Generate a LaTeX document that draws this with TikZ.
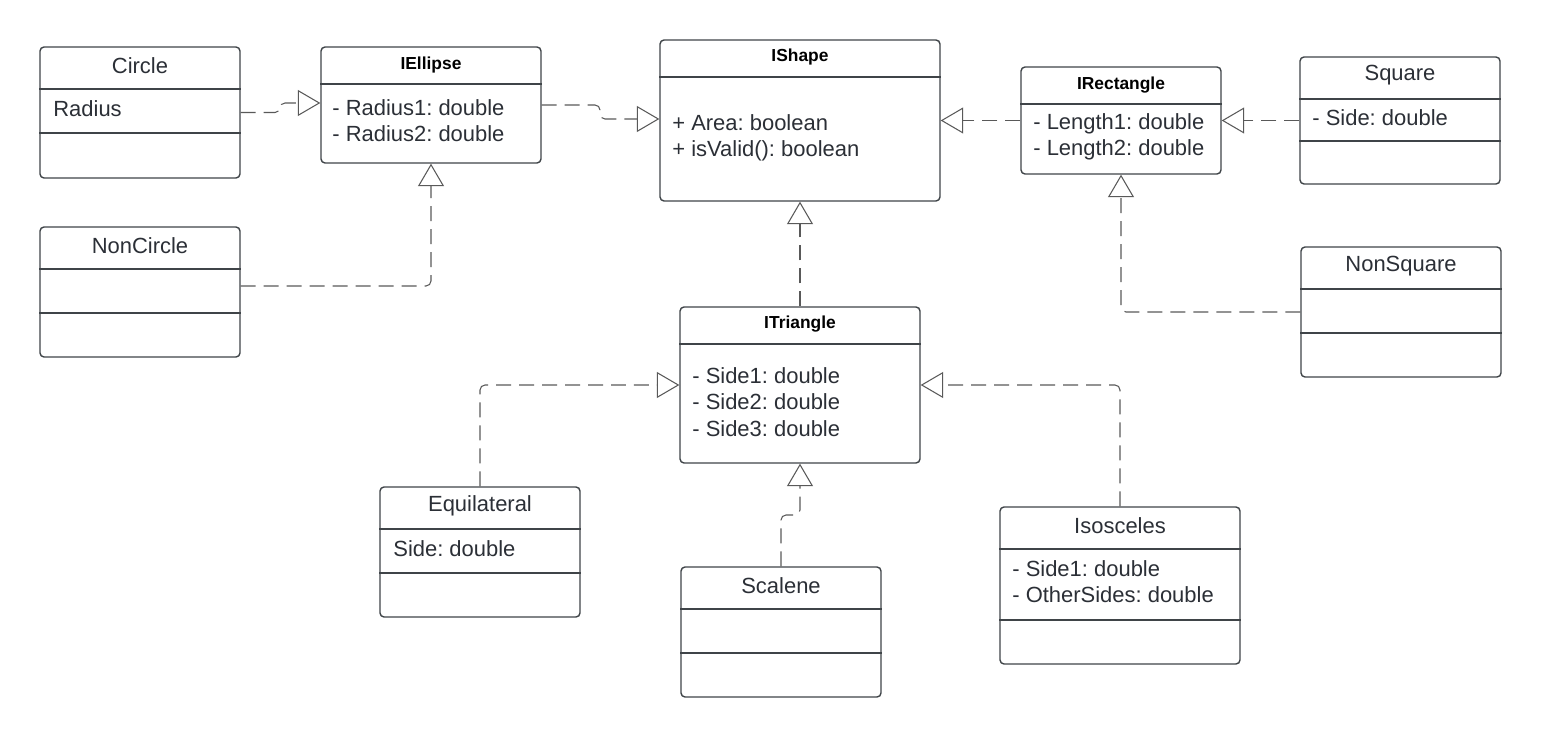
\documentclass[tikz,border=0pt]{standalone}
\usepackage{fontspec}
\setmainfont{Liberation Sans}
\frenchspacing
\usetikzlibrary{arrows.meta}
\definecolor{boxline}{HTML}{3F4448}
\definecolor{txt}{HTML}{2B2F36}
\definecolor{conn}{HTML}{595959}
\tikzset{
  cls/.style={draw=boxline, line width=0.8pt, rounded corners=0.08cm},
  ttl/.style={text=txt, font=\fontsize{12.5}{15}\selectfont, inner sep=0pt},
  ittl/.style={text=black, font=\fontsize{9.9}{12}\selectfont\bfseries, inner sep=0pt},
  body/.style={text=txt, font=\fontsize{12.5}{15}\selectfont, anchor=west, align=left, inner sep=0pt},
  impl/.style={draw=conn, line width=0.6pt, dash pattern=on 0.3cm off 0.16cm, rounded corners=0.1cm,
    -{Triangle[open, length=0.45cm, width=0.52cm]}},
}

\begin{document}
\begin{tikzpicture}[x=0.02cm, y=-0.02cm]
  \useasboundingbox (0,0) rectangle (1541,739);

  % Class boxes
  \node[cls, minimum width=4cm, minimum height=2.62cm] (Circle) at (140,112.5) {};
  \node[cls, minimum width=4.4cm, minimum height=2.32cm] (IEllipse) at (431,105) {};
  \node[cls, minimum width=5.6cm, minimum height=3.22cm] (IShape) at (800,120.5) {};
  \node[cls, minimum width=4cm, minimum height=2.14cm] (IRectangle) at (1121,120.5) {};
  \node[cls, minimum width=4cm, minimum height=2.54cm] (Square) at (1400,120.5) {};
  \node[cls, minimum width=4cm, minimum height=2.6cm] (NonCircle) at (140,292) {};
  \node[cls, minimum width=4cm, minimum height=2.6cm] (NonSquare) at (1401,312) {};
  \node[cls, minimum width=4.8cm, minimum height=3.12cm] (ITriangle) at (800,385) {};
  \node[cls, minimum width=4cm, minimum height=2.6cm] (Equilateral) at (480,552) {};
  \node[cls, minimum width=4cm, minimum height=2.6cm] (Scalene) at (781,632) {};
  \node[cls, minimum width=4.8cm, minimum height=3.14cm] (Isosceles) at (1120,585.5) {};

  % Compartment lines
  \foreach \n/\y in {Circle/89, Circle/133, IEllipse/84, IShape/77, IRectangle/104,
      Square/99, Square/141, NonCircle/269, NonCircle/313, NonSquare/289, NonSquare/333,
      ITriangle/344, Equilateral/529, Equilateral/573, Scalene/609, Scalene/653,
      Isosceles/549, Isosceles/620}
    \draw[boxline, line width=0.8pt] (\n.west |- 0,\y) -- (\n.east |- 0,\y);

  % Titles
  \node[ttl] (circleT) at (140,66) {Circle};
  \node[ittl] (iellipseT) at (431,65) {IEllipse};
  \node[ittl] (ishapeT) at (800,57) {IShape};
  \node[ittl] (irectT) at (1121,85) {IRectangle};
  \node[ttl] (squareT) at (1400,75) {Square};
  \node[ttl] (noncircleT) at (140,246) {NonCircle};
  \node[ttl] (nonsquareT) at (1401,266) {NonSquare};
  \node[ittl] (itriT) at (800,324) {ITriangle};
  \node[ttl] (equiT) at (480,506) {Equilateral};
  \node[ttl] (scaleneT) at (781,586) {Scalene};
  \node[ttl] (isoT) at (1120,526) {Isosceles};

  % Members
  \node[body] (circleA) at (53,109) {Radius};
  \node[body] (iellipseA) at (332,120.5) {- Radius1: double\\- Radius2: double};
  \node[body] (ishapeA) at (672,137.5) {+ Area: boolean\\+ isValid(): boolean};
  \node[body] (irectA) at (1033,137) {- Length1: double\\- Length2: double};
  \node[body] (squareA) at (1312,118) {- Side: double};
  \node[body] (itriA) at (692,402) {- Side1: double\\- Side2: double\\- Side3: double};
  \node[body] (equiA) at (393,549) {Side: double};
  \node[body] (isoA) at (1012,581.5) {- Side1: double\\- OtherSides: double};

  % Realizations
  \draw[impl] (Circle.east) -- (280,112.5) -- (280,103) -- (IEllipse.west |- 0,103);
  \draw[impl] (IEllipse.east) -- (600,105) -- (600,119) -- (IShape.west |- 0,119);
  \draw[impl] (IRectangle.west) -- (IShape.east);
  \draw[impl] (Square.west) -- (IRectangle.east);
  \draw[impl] (NonCircle.east |- 0,286) -| (IEllipse.south);
  \draw[impl] (NonSquare.west) -| (IRectangle.south);
  \draw[impl] (ITriangle.north) -- (IShape.south);
  \draw[impl] (Equilateral.north) |- (ITriangle.west);
  \draw[impl] (Isosceles.north) |- (ITriangle.east);
  \draw[impl] (Scalene.north) -- (781,515) -- (800,515) -- (ITriangle.south);
\end{tikzpicture}
\end{document}
